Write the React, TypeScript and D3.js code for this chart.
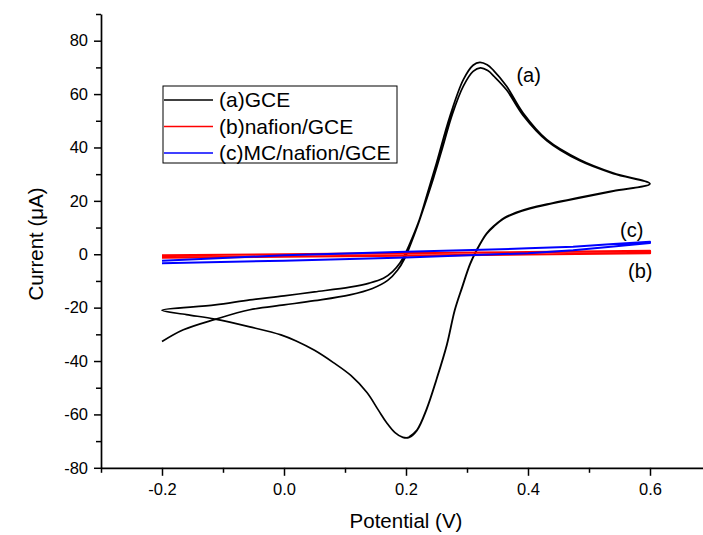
import React, { useEffect, useRef } from 'react';
import * as d3 from 'd3';

const W = 703;
const H = 535;
const FONT = "'Liberation Sans', Arial, sans-serif";

// x ticks (V) and y ticks (µA)
const xMajor = [-0.2, 0.0, 0.2, 0.4, 0.6];
const xMinor = [-0.3, -0.1, 0.1, 0.3, 0.5, 0.7];
const yMajor = [-80, -60, -40, -20, 0, 20, 40, 60, 80];
const yMinor = [-70, -50, -30, -10, 10, 30, 50, 70, 90];

// (a) GCE, cyclic voltammogram, [potential V, current µA]
const gceForward1: [number, number][] = [
  [-0.2, -32.7], [-0.165, -28.3], [-0.113, -24.4], [-0.056, -20.8], [0.0, -19.0], [0.05, -17.4],
  [0.108, -15.2], [0.145, -12.8], [0.17, -9.8], [0.186, -6.0], [0.198, -1.5], [0.208, 4.0],
  [0.218, 10.0], [0.23, 18.0], [0.245, 28.5], [0.26, 40.0], [0.276, 52.5], [0.294, 63.0],
  [0.31, 68.5], [0.322, 69.8], [0.334, 68.8], [0.345, 66.5], [0.365, 61.5], [0.392, 52.0],
  [0.431, 42.5], [0.485, 35.0], [0.54, 30.2], [0.6, 26.4],
];
const gceReverse1: [number, number][] = [
  [0.6, 26.4], [0.54, 23.6], [0.485, 21.1], [0.44, 19.0], [0.403, 17.1], [0.38, 15.4],
  [0.36, 13.3], [0.345, 10.6], [0.332, 7.6], [0.316, 1.5], [0.305, -3.8], [0.292, -12.5],
  [0.28, -21.0], [0.267, -34.0], [0.25, -47.0], [0.234, -58.0], [0.218, -66.0], [0.205, -68.6],
  [0.195, -68.6], [0.182, -66.8], [0.168, -63.0], [0.155, -58.5], [0.136, -51.8], [0.11, -45.5],
  [0.081, -40.6], [0.05, -36.0], [0.02, -32.5], [-0.005, -30.2], [-0.056, -27.2],
  [-0.113, -24.3], [-0.16, -22.6], [-0.2, -21.0],
];
const gceForward2: [number, number][] = [
  [-0.2, -21.0], [-0.113, -19.0], [-0.056, -17.1], [0.0, -15.6], [0.05, -14.1], [0.108, -12.3],
  [0.14, -10.8], [0.163, -9.0], [0.178, -6.5], [0.19, -3.3], [0.2, 0.8], [0.21, 6.0],
  [0.222, 13.0], [0.236, 23.5], [0.25, 34.2], [0.272, 51.7], [0.294, 65.4], [0.31, 70.8],
  [0.321, 71.9], [0.333, 71.0], [0.343, 69.0], [0.365, 62.9], [0.392, 52.9], [0.431, 42.9],
  [0.485, 35.4], [0.54, 30.4], [0.6, 26.4],
];
const gceReverse2: [number, number][] = [
  [0.6, 26.4], [0.54, 23.8], [0.485, 21.3], [0.44, 19.2], [0.403, 17.3], [0.38, 15.6],
  [0.36, 13.5], [0.345, 10.8], [0.332, 7.8], [0.316, 1.7], [0.305, -3.6], [0.292, -12.3],
  [0.28, -20.8], [0.267, -33.8], [0.25, -46.8], [0.234, -57.8], [0.218, -65.8], [0.205, -68.4],
];

// (b) nafion/GCE
const nafionForward: [number, number][] = [
  [-0.2, -0.4], [0.0, 0.0], [0.2, 0.4], [0.4, 0.8], [0.6, 1.3],
];
const nafionReverse: [number, number][] = [
  [0.6, 0.4], [0.4, -0.1], [0.2, -0.5], [0.0, -0.9], [-0.2, -1.3],
];

// (c) MC/nafion/GCE
const mcForward: [number, number][] = [
  [-0.2, -2.4], [0.0, -0.4], [0.2, 0.9], [0.4, 2.2], [0.474, 2.8], [0.54, 3.8], [0.6, 4.7],
];
const mcReverse: [number, number][] = [
  [0.6, 4.2], [0.54, 2.9], [0.474, 1.5], [0.4, 0.4], [0.2, -1.2], [0.0, -2.4], [-0.2, -3.4],
];

const series = [
  { key: '(a)GCE', color: '#000000', width: 1.7, smooth: true, data: [...gceForward1, ...gceReverse1.slice(1), ...gceForward2.slice(1), ...gceReverse2.slice(1)] },
  { key: '(b)nafion/GCE', color: '#ff0000', width: 2.2, smooth: false, data: [...nafionForward, ...nafionReverse] },
  { key: '(c)MC/nafion/GCE', color: '#0000ff', width: 2.0, smooth: false, data: [...mcForward, ...mcReverse] },
];

const annotations = [
  { text: '(a)', v: 0.401, i: 64.7 },
  { text: '(c)', v: 0.57, i: 6.6 },
  { text: '(b)', v: 0.584, i: -8.8 },
];

const x = d3.scaleLinear().domain([-0.3, 0.7]).range([101, 711]);
const y = d3.scaleLinear().domain([-80, 90]).range([467.8, 14]);

export default function App() {
  const gx = useRef<SVGGElement>(null);
  const gxm = useRef<SVGGElement>(null);
  const gy = useRef<SVGGElement>(null);
  const gym = useRef<SVGGElement>(null);

  useEffect(() => {
    const styleAxis = (sel: d3.Selection<SVGGElement, unknown, null, undefined>) => {
      sel.select('.domain').attr('stroke', '#000').attr('stroke-width', 1.7);
      sel.selectAll('.tick line').attr('stroke', '#000').attr('stroke-width', 1.5);
      sel.selectAll('.tick text')
        .attr('fill', '#000')
        .style('font-family', FONT)
        .style('font-size', '16.5px');
    };
    const ax = d3.select(gx.current!);
    ax.call(
      d3.axisBottom(x).tickValues(xMajor).tickSize(8).tickSizeOuter(0).tickPadding(7)
        .tickFormat((d) => d3.format('.1f')(d as number).replace('−', '-'))
    );
    styleAxis(ax);
    const axm = d3.select(gxm.current!);
    axm.call(d3.axisBottom(x).tickValues(xMinor).tickSize(5).tickSizeOuter(0).tickFormat(() => ''));
    styleAxis(axm);
    axm.select('.domain').remove();

    const ay = d3.select(gy.current!);
    ay.call(
      d3.axisLeft(y).tickValues(yMajor).tickSize(7).tickSizeOuter(0).tickPadding(6)
        .tickFormat((d) => String(d))
    );
    styleAxis(ay);
    const aym = d3.select(gym.current!);
    aym.call(d3.axisLeft(y).tickValues(yMinor).tickSize(5).tickSizeOuter(0).tickFormat(() => ''));
    styleAxis(aym);
    aym.select('.domain').remove();
  }, []);

  const smoothLine = d3
    .line<[number, number]>()
    .x((d) => x(d[0]))
    .y((d) => y(d[1]))
    .curve(d3.curveCatmullRom.alpha(0.5));
  const straightLine = d3
    .line<[number, number]>()
    .x((d) => x(d[0]))
    .y((d) => y(d[1]));

  const legendX = 163;
  const legendY = 86;
  const rowGap = 26.5;

  return (
    <svg
      width={W}
      height={H}
      style={{ position: 'absolute', left: 0, top: 0, background: '#fff' }}
      fontFamily={FONT}
    >
      <rect x={0} y={0} width={W} height={H} fill="#fff" />
      {series.map((s) => (
        <path
          key={s.key}
          d={(s.smooth ? smoothLine(s.data) : straightLine(s.data)) || ''}
          fill="none"
          stroke={s.color}
          strokeWidth={s.width}
          strokeLinejoin="round"
        />
      ))}
      <g ref={gxm} transform={`translate(0,${y(-80)})`} />
      <g ref={gx} transform={`translate(0,${y(-80)})`} />
      <g ref={gym} transform={`translate(${x(-0.3)},0)`} />
      <g ref={gy} transform={`translate(${x(-0.3)},0)`} />

      {annotations.map((a) => (
        <text key={a.text} x={x(a.v)} y={y(a.i)} fontSize={20} fill="#000" textAnchor="middle">
          {a.text}
        </text>
      ))}

      <g>
        <rect x={legendX} y={legendY} width={234} height={77} fill="#fff" stroke="#000" strokeWidth={1} />
        {series.map((s, k) => (
          <g key={s.key} transform={`translate(${legendX},${legendY + 14 + k * rowGap})`}>
            <line x1={1} x2={50} y1={0} y2={0} stroke={s.color} strokeWidth={1.7} />
            <text x={56} y={7} fontSize={21} fill="#000">
              {s.key}
            </text>
          </g>
        ))}
      </g>

      <text x={406} y={528} fontSize={20.5} textAnchor="middle" fill="#000">
        Potential (V)
      </text>
      <text transform={`translate(43,244) rotate(-90)`} fontSize={20.5} textAnchor="middle" fill="#000">
        Current (μA)
      </text>
    </svg>
  );
}
